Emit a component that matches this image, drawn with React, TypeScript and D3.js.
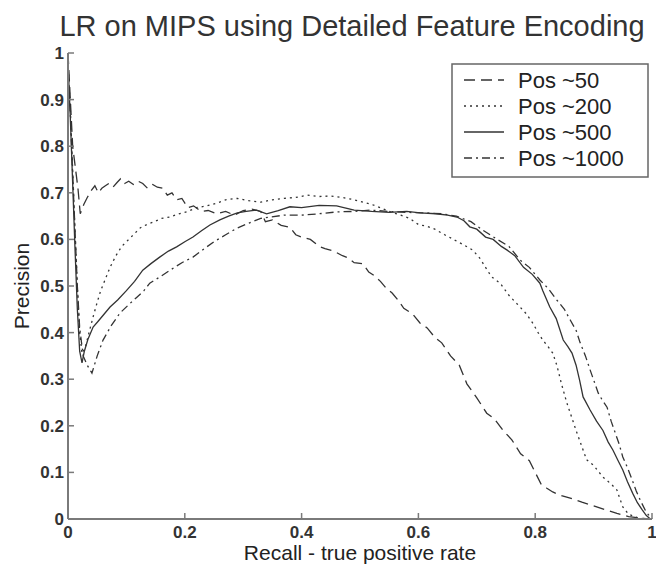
import * as d3 from 'd3'

const WIDTH = 656
const HEIGHT = 566

const TITLE = 'LR on MIPS using Detailed Feature Encoding'
const X_LABEL = 'Recall - true positive rate'
const Y_LABEL = 'Precision'
const X_TICKS = [0, 0.2, 0.4, 0.6, 0.8, 1]
const Y_TICKS = [0, 0.1, 0.2, 0.3, 0.4, 0.5, 0.6, 0.7, 0.8, 0.9, 1]

// Pos ~50 (dashed)
const POS50_R = [0, 0.004, 0.008, 0.011, 0.014, 0.017, 0.021, 0.027, 0.033, 0.04, 0.046, 0.052, 0.058, 0.064, 0.07, 0.077, 0.084, 0.09, 0.097, 0.104, 0.112, 0.12, 0.128, 0.136, 0.145, 0.153, 0.162, 0.17, 0.178, 0.186, 0.195, 0.205, 0.215, 0.228, 0.24, 0.255, 0.27, 0.285, 0.3, 0.315, 0.33, 0.338, 0.35, 0.365, 0.38, 0.39, 0.4, 0.415, 0.43, 0.44, 0.455, 0.47, 0.48, 0.49, 0.505, 0.515, 0.525, 0.535, 0.545, 0.555, 0.565, 0.575, 0.59, 0.603, 0.615, 0.628, 0.64, 0.655, 0.67, 0.683, 0.7, 0.717, 0.73, 0.745, 0.76, 0.775, 0.79, 0.8, 0.81, 0.82, 0.83, 0.845, 0.86, 0.88, 0.9, 0.92, 0.94, 0.96, 0.98, 0.995]
const POS50_P = [1.0, 0.9, 0.8, 0.77, 0.74, 0.71, 0.655, 0.675, 0.69, 0.705, 0.715, 0.7, 0.71, 0.715, 0.72, 0.712, 0.722, 0.73, 0.72, 0.725, 0.718, 0.725, 0.72, 0.71, 0.718, 0.712, 0.71, 0.695, 0.7, 0.685, 0.688, 0.668, 0.672, 0.66, 0.662, 0.655, 0.66, 0.652, 0.662, 0.665, 0.66, 0.638, 0.642, 0.63, 0.626, 0.61, 0.605, 0.6, 0.585, 0.58, 0.575, 0.565, 0.56, 0.55, 0.548, 0.53, 0.522, 0.51, 0.495, 0.485, 0.47, 0.452, 0.44, 0.42, 0.41, 0.39, 0.378, 0.35, 0.33, 0.29, 0.26, 0.227, 0.215, 0.19, 0.17, 0.14, 0.125, 0.1, 0.075, 0.066, 0.058, 0.05, 0.045, 0.036, 0.028, 0.02, 0.012, 0.005, 0.002, 0]

// Pos ~200 (dotted)
const POS200_R = [0, 0.004, 0.008, 0.012, 0.016, 0.02, 0.024, 0.03, 0.036, 0.043, 0.05, 0.056, 0.064, 0.072, 0.082, 0.092, 0.1, 0.112, 0.124, 0.135, 0.148, 0.16, 0.175, 0.19, 0.205, 0.22, 0.238, 0.255, 0.27, 0.29, 0.31, 0.33, 0.35, 0.37, 0.39, 0.41, 0.43, 0.45, 0.47, 0.49, 0.505, 0.52, 0.535, 0.55, 0.57, 0.585, 0.6, 0.615, 0.628, 0.645, 0.66, 0.675, 0.693, 0.705, 0.715, 0.725, 0.74, 0.755, 0.774, 0.785, 0.796, 0.805, 0.813, 0.822, 0.83, 0.837, 0.845, 0.854, 0.862, 0.87, 0.88, 0.888, 0.9, 0.916, 0.93, 0.94, 0.946, 0.95, 0.96, 0.975, 0.99]
const POS200_P = [0.98, 0.88, 0.75, 0.62, 0.5, 0.4, 0.355, 0.37, 0.4, 0.434, 0.465, 0.49, 0.515, 0.54, 0.565, 0.585, 0.595, 0.61, 0.625, 0.632, 0.638, 0.645, 0.648, 0.655, 0.66, 0.668, 0.672, 0.678, 0.685, 0.688, 0.683, 0.68, 0.685, 0.688, 0.69, 0.695, 0.692, 0.693, 0.69, 0.685, 0.68, 0.675, 0.668, 0.66, 0.652, 0.645, 0.632, 0.628, 0.622, 0.61, 0.6, 0.59, 0.577, 0.56, 0.54, 0.52, 0.506, 0.48, 0.455, 0.44, 0.42, 0.4, 0.384, 0.37, 0.356, 0.33, 0.29, 0.25, 0.22, 0.19, 0.155, 0.127, 0.115, 0.09, 0.075, 0.062, 0.04, 0.026, 0.01, 0.003, 0]

// Pos ~500 (solid)
const POS500_R = [0, 0.004, 0.008, 0.012, 0.016, 0.02, 0.024, 0.028, 0.034, 0.043, 0.052, 0.062, 0.072, 0.085, 0.1, 0.114, 0.128, 0.142, 0.157, 0.172, 0.186, 0.2, 0.214, 0.228, 0.243, 0.26, 0.275, 0.29, 0.305, 0.323, 0.34, 0.36, 0.38, 0.4, 0.43, 0.46, 0.49, 0.52, 0.55, 0.58, 0.603, 0.63, 0.65, 0.666, 0.678, 0.688, 0.7, 0.715, 0.728, 0.742, 0.752, 0.765, 0.78, 0.795, 0.808, 0.813, 0.825, 0.836, 0.848, 0.856, 0.863, 0.87, 0.876, 0.882, 0.894, 0.905, 0.916, 0.925, 0.933, 0.942, 0.95, 0.958, 0.967, 0.975, 0.983, 0.99, 0.997]
const POS500_P = [0.98, 0.86, 0.72, 0.58, 0.45, 0.36, 0.335, 0.36, 0.385, 0.412, 0.425, 0.44, 0.455, 0.47, 0.49, 0.51, 0.534, 0.548, 0.562, 0.575, 0.584, 0.595, 0.605, 0.618, 0.631, 0.642, 0.65, 0.657, 0.66, 0.663, 0.655, 0.662, 0.67, 0.668, 0.673, 0.672, 0.663, 0.66, 0.658, 0.66, 0.657, 0.655, 0.652, 0.648, 0.64, 0.627, 0.622, 0.605, 0.6, 0.585, 0.577, 0.565, 0.54, 0.525, 0.506, 0.49, 0.455, 0.43, 0.384, 0.37, 0.356, 0.33, 0.298, 0.262, 0.234, 0.21, 0.19, 0.165, 0.148, 0.125, 0.105, 0.08, 0.055, 0.035, 0.02, 0.008, 0]

// Pos ~1000 (dash-dot)
const POS1000_R = [0, 0.004, 0.008, 0.012, 0.016, 0.02, 0.026, 0.033, 0.041, 0.05, 0.06, 0.074, 0.089, 0.104, 0.118, 0.13, 0.14, 0.158, 0.175, 0.195, 0.214, 0.231, 0.25, 0.27, 0.289, 0.31, 0.33, 0.346, 0.37, 0.4, 0.43, 0.46, 0.49, 0.517, 0.55, 0.58, 0.61, 0.64, 0.665, 0.69, 0.71, 0.735, 0.755, 0.774, 0.79, 0.808, 0.822, 0.837, 0.85, 0.86, 0.87, 0.877, 0.886, 0.894, 0.901, 0.908, 0.915, 0.923, 0.93, 0.937, 0.944, 0.95, 0.958, 0.966, 0.973, 0.98, 0.99, 1.0]
const POS1000_P = [0.97, 0.87, 0.74, 0.62, 0.5, 0.41, 0.35, 0.33, 0.313, 0.35, 0.384, 0.415, 0.442, 0.46, 0.476, 0.49, 0.506, 0.52, 0.534, 0.55, 0.562, 0.578, 0.595, 0.61, 0.624, 0.635, 0.645, 0.648, 0.652, 0.652, 0.655, 0.659, 0.66, 0.663, 0.66, 0.658, 0.657, 0.655, 0.65, 0.638, 0.62, 0.6, 0.585, 0.556, 0.54, 0.513, 0.495, 0.47, 0.45, 0.427, 0.405, 0.378, 0.35, 0.32, 0.295, 0.27, 0.255, 0.24, 0.21, 0.185, 0.16, 0.133, 0.11, 0.084, 0.06, 0.04, 0.015, 0]

const SERIES = [
  { name: 'Pos ~50', r: POS50_R, p: POS50_P, dash: '11,6' },
  { name: 'Pos ~200', r: POS200_R, p: POS200_P, dash: '2,4' },
  { name: 'Pos ~500', r: POS500_R, p: POS500_P, dash: 'none' },
  { name: 'Pos ~1000', r: POS1000_R, p: POS1000_P, dash: '8,4,2,4' },
]

const FONT = '"Liberation Sans", Arial, sans-serif'
const LINE_COLOR = '#333'
const AXIS_COLOR = '#7a7a7a'

export default function App() {
  const margin = { left: 68, right: 4, top: 53, bottom: 47 }
  const x = d3.scaleLinear().domain([0, 1]).range([margin.left, WIDTH - margin.right])
  const y = d3.scaleLinear().domain([0, 1]).range([HEIGHT - margin.bottom, margin.top])
  const line = d3
    .line<[number, number]>()
    .x((d) => x(d[0]))
    .y((d) => y(d[1]))

  const legendX = 452
  const legendY = 64

  return (
    <svg
      width={WIDTH}
      height={HEIGHT}
      style={{ position: 'absolute', left: 0, top: 0, background: '#fff' }}
      fontFamily={FONT}
    >
      <text x={352} y={36} textAnchor="middle" fontSize={29} fill="#333">
        {TITLE}
      </text>

      {SERIES.map((s) => (
        <path
          key={s.name}
          d={line(s.r.map((r, i) => [r, s.p[i]] as [number, number])) ?? undefined}
          fill="none"
          stroke={LINE_COLOR}
          strokeWidth={1.3}
          strokeDasharray={s.dash}
        />
      ))}

      {/* axes */}
      <line x1={x(0)} x2={x(0)} y1={y(0)} y2={y(1)} stroke={AXIS_COLOR} strokeWidth={2} />
      <line x1={x(0)} x2={x(1)} y1={y(0)} y2={y(0)} stroke={AXIS_COLOR} strokeWidth={2} />
      {Y_TICKS.map((t) => (
        <g key={`y${t}`}>
          <line x1={x(0)} x2={x(0) + 6} y1={y(t)} y2={y(t)} stroke={AXIS_COLOR} strokeWidth={1.5} />
          <text
            x={x(0) - 4}
            y={y(t)}
            dy="0.35em"
            textAnchor="end"
            fontSize={17}
            fontWeight="bold"
            fill="#333"
          >
            {d3.format('~g')(t)}
          </text>
        </g>
      ))}
      {X_TICKS.map((t) => (
        <g key={`x${t}`}>
          <line x1={x(t)} x2={x(t)} y1={y(0)} y2={y(0) - 6} stroke={AXIS_COLOR} strokeWidth={1.5} />
          <text
            x={x(t)}
            y={y(0) + 19}
            textAnchor="middle"
            fontSize={17}
            fontWeight="bold"
            fill="#333"
          >
            {d3.format('~g')(t)}
          </text>
        </g>
      ))}

      <text x={360} y={560} textAnchor="middle" fontSize={21} fill="#222">
        {X_LABEL}
      </text>
      <text
        transform={`translate(29,${(y(0) + y(1)) / 2}) rotate(-90)`}
        textAnchor="middle"
        fontSize={21}
        fill="#222"
      >
        {Y_LABEL}
      </text>

      {/* legend */}
      <rect
        x={legendX}
        y={legendY}
        width={196}
        height={113}
        fill="#fff"
        stroke="#666"
        strokeWidth={1.5}
      />
      {SERIES.map((s, i) => {
        const cy = legendY + 16 + i * 26
        return (
          <g key={`l${s.name}`}>
            <line
              x1={legendX + 12}
              x2={legendX + 52}
              y1={cy}
              y2={cy}
              stroke={LINE_COLOR}
              strokeWidth={1.3}
              strokeDasharray={s.dash}
            />
            <text x={legendX + 66} y={cy} dy="0.35em" fontSize={22} fill="#222">
              {s.name}
            </text>
          </g>
        )
      })}
    </svg>
  )
}
